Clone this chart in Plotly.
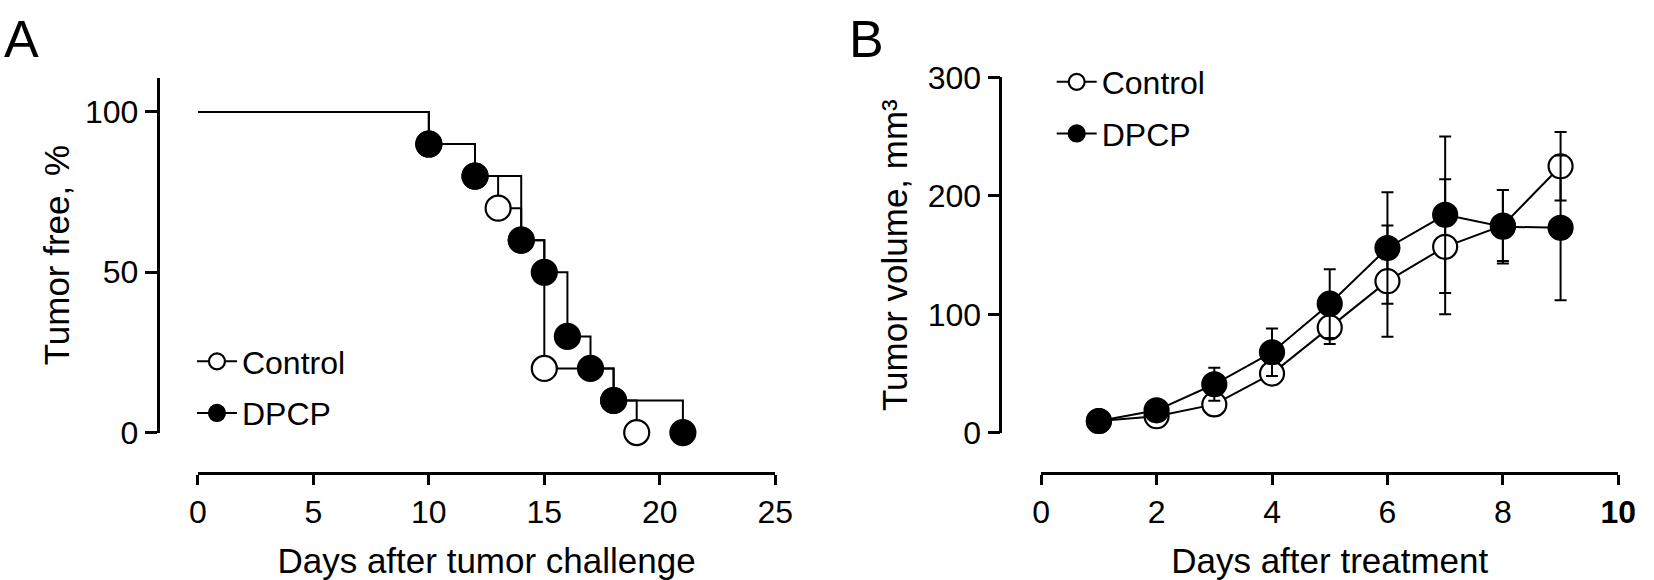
import plotly.graph_objects as go

# A: tumorfreie Tiere (Kaplan-Meier, Stufen)
ctrl_days_a = [0, 10, 12, 13, 14, 15, 18, 19]
ctrl_free = [100, 90, 80, 70, 60, 20, 10, 0]
dpcp_days_a = [0, 10, 12, 14, 15, 16, 17, 18, 21]
dpcp_free = [100, 90, 80, 60, 50, 30, 20, 10, 0]

# B: Tumorvolumen (Mittelwert +/- Fehler)
days_b = [1, 2, 3, 4, 5, 6, 7, 8, 9]
ctrl_vol = [10, 14, 24, 50, 89, 128, 157, 175, 225]
ctrl_err = [2, 3, 4, 6, 14, 47, 57, 30, 29]
dpcp_vol = [10, 19, 41, 68, 109, 156, 184, 174, 173]
dpcp_err = [2, 3, 14, 20, 29, 47, 66, 31, 61]

ticks_a_x = [0, 5, 10, 15, 20, 25]
ticks_a_y = [0, 50, 100]
ticks_b_x = [0, 2, 4, 6, 8, 10]
ticktext_b_x = ['0', '2', '4', '6', '8', '<b>10</b>']
ticks_b_y = [0, 100, 200, 300]

W, H = 1654, 580
FONT = 'Arial, Liberation Sans, sans-serif'


def px_x(p):
    return p / W


def px_y(p):
    # Pixel von oben -> paper von unten
    return (H - p) / H


# Startpunkt (Tag 0) ohne Marker
def sizes(n, s):
    return [0] + [s] * (n - 1)


fig = go.Figure()

fig.add_trace(go.Scatter(
    x=ctrl_days_a, y=ctrl_free, mode='lines+markers', name='Control', legendgroup='c',
    line=dict(shape='hv', color='black', width=2),
    marker=dict(size=sizes(len(ctrl_free), 25), color='white', opacity=1,
                line=dict(color='black', width=2.2)),
    xaxis='x', yaxis='y', legend='legend', cliponaxis=False))
fig.add_trace(go.Scatter(
    x=dpcp_days_a, y=dpcp_free, mode='lines+markers', name='DPCP', legendgroup='d',
    line=dict(shape='hv', color='black', width=2),
    marker=dict(size=sizes(len(dpcp_free), 25), color='black', opacity=1,
                line=dict(color='black', width=2.2)),
    xaxis='x', yaxis='y', legend='legend', cliponaxis=False))

fig.add_trace(go.Scatter(
    x=days_b, y=ctrl_vol, mode='lines+markers', name='Control', legendgroup='c2',
    line=dict(color='black', width=2),
    marker=dict(size=24, color='white', line=dict(color='black', width=2.2)),
    error_y=dict(type='data', array=ctrl_err, color='black', thickness=2, width=6),
    xaxis='x2', yaxis='y2', legend='legend2', cliponaxis=False))
fig.add_trace(go.Scatter(
    x=days_b, y=dpcp_vol, mode='lines+markers', name='DPCP', legendgroup='d2',
    line=dict(color='black', width=2),
    marker=dict(size=24, color='black', line=dict(color='black', width=2.2)),
    error_y=dict(type='data', array=dpcp_err, color='black', thickness=2, width=6),
    xaxis='x2', yaxis='y2', legend='legend2', cliponaxis=False))

achse = dict(showline=True, linecolor='black', linewidth=2.5, ticks='outside', tickwidth=2.5,
             tickcolor='black', showgrid=False, zeroline=False, anchor='free',
             tickfont=dict(size=32, color='black', family=FONT))

legende = dict(xanchor='left', yanchor='middle', font=dict(size=32), bgcolor='rgba(0,0,0,0)',
               itemsizing='trace', itemwidth=40, tracegroupgap=7)

fig.update_layout(
    width=W, height=H, margin=dict(l=0, r=0, t=0, b=0),
    paper_bgcolor='white', plot_bgcolor='white',
    font=dict(family=FONT, color='black'),
    xaxis=dict(achse, domain=[px_x(192), px_x(779)], range=[0, 25], position=px_y(485),
               tickvals=ticks_a_x, ticklen=10,
               title=dict(text='Days after tumor challenge', font=dict(size=35), standoff=19)),
    yaxis=dict(achse, domain=[px_y(442), px_y(63.6)], range=[0, 110.7], position=px_x(151),
               tickvals=ticks_a_y, ticklen=12,
               title=dict(text='Tumor free, %', font=dict(size=35), standoff=3)),
    xaxis2=dict(achse, domain=[px_x(1049.3), px_x(1636)], range=[0, 10], position=px_y(485),
                tickvals=ticks_b_x, ticktext=ticktext_b_x, ticklen=10,
                title=dict(text='Days after treatment', font=dict(size=35), standoff=19)),
    yaxis2=dict(achse, domain=[px_y(442.3), px_y(63.3)], range=[0, 300], position=px_x(1007.7),
                tickvals=ticks_b_y, ticklen=12,
                title=dict(text='Tumor volume, mm³', font=dict(size=35), standoff=8)),
    legend=dict(legende, x=px_x(186), y=px_y(394)),
    legend2=dict(legende, x=px_x(1060), y=px_y(96)),
    annotations=[
        dict(text='A', x=px_x(-6), y=px_y(-10), xref='paper', yref='paper', xanchor='left',
             yanchor='top', showarrow=False, borderpad=0, font=dict(size=52)),
        dict(text='B', x=px_x(853), y=px_y(-10), xref='paper', yref='paper', xanchor='left',
             yanchor='top', showarrow=False, borderpad=0, font=dict(size=52)),
    ],
)

fig.write_html("out.html", config={'displayModeBar': False},
               post_script="document.body.style.margin='0';")
